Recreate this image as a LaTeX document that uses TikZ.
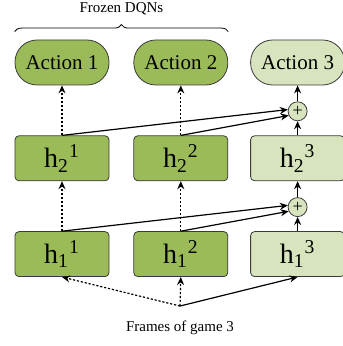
\documentclass[tikz,border=0pt]{standalone}
\usepackage{fontspec}
\setmainfont{Liberation Serif}
\usetikzlibrary{arrows.meta, positioning, decorations.pathreplacing}
\definecolor{frozengreen}{HTML}{9BBB59}
\definecolor{lightgreen}{HTML}{D7E4BD}
\definecolor{edgegray}{HTML}{3A3A3A}

\begin{document}
\begin{tikzpicture}[
    x=0.5pt, y=0.5pt,
    node distance=25pt and 12pt,
    action/.style={rectangle, draw=edgegray, rounded corners=11pt, minimum width=47pt, minimum height=22.5pt, inner sep=0pt, font=\fontsize{10.5}{12}\selectfont},
    hidden/.style={rectangle, draw=edgegray, rounded corners=2pt, minimum width=47pt, minimum height=22.5pt, inner sep=0pt, font=\fontsize{14}{16}\selectfont},
    sumnode/.style={circle, draw=edgegray, fill=lightgreen, minimum size=9.5pt, inner sep=0pt, font=\fontsize{9}{9}\selectfont},
    arrow/.style={-{Stealth[length=4pt, width=3.5pt]}, line width=0.6pt},
    frozenarrow/.style={arrow, dash pattern=on 1.1pt off 0.9pt},
    note/.style={font=\fontsize{7.5}{9}\selectfont}
]
\useasboundingbox (0,0) rectangle (342,346);

% actions
\node[action, fill=frozengreen] (act1) at (62,283.5) {Action 1};
\node[action, fill=frozengreen, right=of act1] (act2) {Action 2};
\node[action, fill=lightgreen, right=11pt of act2] (act3) {Action 3};

% hidden layers
\node[hidden, fill=frozengreen, below=of act1] (h21) {h\textsubscript{2}\textsuperscript{1}};
\node[hidden, fill=frozengreen, below=of act2] (h22) {h\textsubscript{2}\textsuperscript{2}};
\node[hidden, fill=lightgreen, below=of act3] (h23) {h\textsubscript{2}\textsuperscript{3}};
\node[hidden, fill=frozengreen, below=of h21] (h11) {h\textsubscript{1}\textsuperscript{1}};
\node[hidden, fill=frozengreen, below=of h22] (h12) {h\textsubscript{1}\textsuperscript{2}};
\node[hidden, fill=lightgreen, below=of h23] (h13) {h\textsubscript{1}\textsuperscript{3}};

% lateral sums
\node[sumnode, below=8pt of act3] (sum2) {+};
\node[sumnode, below=8pt of h23] (sum1) {+};

% input
\node[note] (frames) at (180,18) {Frames of game 3};
\coordinate[above=4pt of frames] (src);

% brace
\draw[decorate, decoration={brace, amplitude=3.5pt}]
    ([yshift=4pt]act1.north west) -- ([yshift=4pt]act2.north east)
    node[note, midway, above=5pt] (frozen) {Frozen DQNs};

\draw[frozenarrow] (src) -- (h11.south);
\draw[frozenarrow] (src) -- (h12.south);
\draw[arrow] (src) -- (h13.south);

\draw[frozenarrow] (h11) -- (h21);
\draw[frozenarrow] (h12) -- (h22);
\draw[frozenarrow] (h21) -- (act1);
\draw[frozenarrow] (h22) -- (act2);

\draw[arrow] (h13) -- (sum1);
\draw[arrow] (sum1) -- (h23);
\draw[arrow] (h23) -- (sum2);
\draw[arrow] (sum2) -- (act3);

\draw[arrow] (h11.north) -- (sum1.170);
\draw[arrow] (h12.north) -- (sum1.205);
\draw[arrow] (h21.north) -- (sum2.170);
\draw[arrow] (h22.north) -- (sum2.205);
\end{tikzpicture}
\end{document}
